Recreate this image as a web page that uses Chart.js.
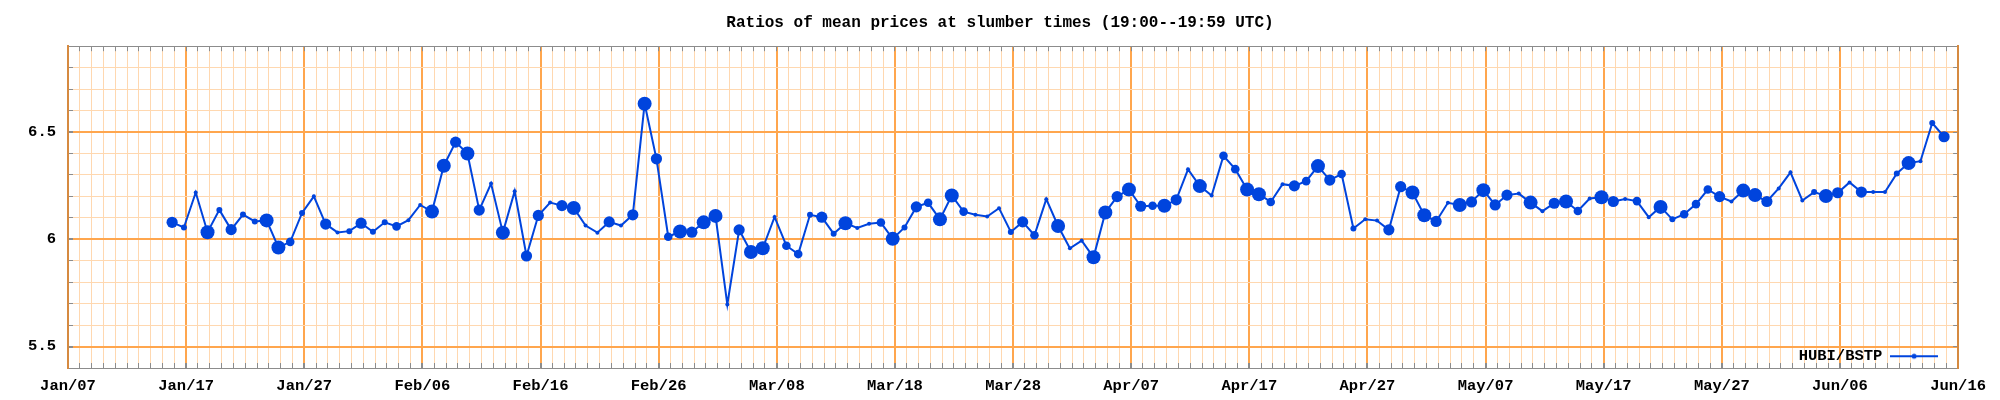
<!DOCTYPE html>
<html>
<head>
<meta charset="utf-8">
<script src="https://cdn.jsdelivr.net/npm/chart.js@4.4.1/dist/chart.umd.min.js"></script>
<style>
  html, body { margin: 0; padding: 0; background: #fff; }
</style>
</head>
<body>
<canvas id="ratioChart" width="2000" height="400"></canvas>
<script>
const chartTitle = 'Ratios of mean prices at slumber times (19:00--19:59 UTC)';
const seriesName = 'HUBI/BSTP';
const monthNames = ['Jan', 'Feb', 'Mar', 'Apr', 'May', 'Jun', 'Jul', 'Aug', 'Sep', 'Oct', 'Nov', 'Dec'];
const axisStart = [2023, 0, 7];   // Jan/07, left edge of the x axis
const axisDays = 160;             // up to Jun/16
const slotMiddle = 19.5 / 24;     // 19:00--19:59 UTC
const yMin = 5.4;
const yMax = 6.9;

// one sample per day
const dates = [
  '01-15', '01-16', '01-17', '01-18', '01-19', '01-20', '01-21', '01-22', '01-23', '01-24', '01-25', '01-26', '01-27', '01-28', '01-29', '01-30', '01-31',
  '02-01', '02-02', '02-03', '02-04', '02-05', '02-06', '02-07', '02-08', '02-09', '02-10', '02-11', '02-12', '02-13', '02-14', '02-15', '02-16', '02-17', '02-18', '02-19', '02-20', '02-21', '02-22', '02-23', '02-24', '02-25', '02-26', '02-27', '02-28',
  '03-01', '03-02', '03-03', '03-04', '03-05', '03-06', '03-07', '03-08', '03-09', '03-10', '03-11', '03-12', '03-13', '03-14', '03-15', '03-16', '03-17', '03-18', '03-19', '03-20', '03-21', '03-22', '03-23', '03-24', '03-25', '03-26', '03-27', '03-28', '03-29', '03-30', '03-31',
  '04-01', '04-02', '04-03', '04-04', '04-05', '04-06', '04-07', '04-08', '04-09', '04-10', '04-11', '04-12', '04-13', '04-14', '04-15', '04-16', '04-17', '04-18', '04-19', '04-20', '04-21', '04-22', '04-23', '04-24', '04-25', '04-26', '04-27', '04-28', '04-29', '04-30',
  '05-01', '05-02', '05-03', '05-04', '05-05', '05-06', '05-07', '05-08', '05-09', '05-10', '05-11', '05-12', '05-13', '05-14', '05-15', '05-16', '05-17', '05-18', '05-19', '05-20', '05-21', '05-22', '05-23', '05-24', '05-25', '05-26', '05-27', '05-28', '05-29', '05-30', '05-31',
  '06-01', '06-02', '06-03', '06-04', '06-05', '06-06', '06-07', '06-08', '06-09', '06-10', '06-11', '06-12', '06-13', '06-14'
];

const ratios = [
  6.079, 6.055, 6.218, 6.033, 6.137, 6.045, 6.115, 6.083, 6.088, 5.962, 5.988, 6.123, 6.200, 6.071, 6.032, 6.038, 6.075,
  6.035, 6.079, 6.060, 6.089, 6.160, 6.129, 6.343, 6.453, 6.400, 6.136, 6.260, 6.031, 6.224, 5.922, 6.111, 6.171, 6.157, 6.146, 6.064, 6.031, 6.081, 6.064, 6.114, 6.632, 6.375, 6.012, 6.036, 6.033,
  6.079, 6.109, 5.696, 6.044, 5.941, 5.958, 6.104, 5.970, 5.931, 6.114, 6.103, 6.026, 6.075, 6.053, 6.072, 6.078, 6.002, 6.055, 6.151, 6.170, 6.093, 6.204, 6.129, 6.114, 6.106, 6.145, 6.034, 6.081, 6.019, 6.187, 6.062,
  5.958, 5.994, 5.916, 6.125, 6.199, 6.232, 6.154, 6.156, 6.156, 6.184, 6.326, 6.248, 6.204, 6.389, 6.327, 6.232, 6.210, 6.174, 6.257, 6.249, 6.271, 6.341, 6.276, 6.304, 6.050, 6.093, 6.087, 6.044, 6.245, 6.218,
  6.112, 6.083, 6.170, 6.160, 6.174, 6.229, 6.160, 6.206, 6.213, 6.171, 6.131, 6.168, 6.176, 6.132, 6.190, 6.196, 6.176, 6.188, 6.178, 6.103, 6.151, 6.093, 6.117, 6.164, 6.232, 6.199, 6.176, 6.227, 6.206, 6.176, 6.237,
  6.312, 6.181, 6.220, 6.202, 6.217, 6.265, 6.220, 6.220, 6.220, 6.307, 6.355, 6.364, 6.542, 6.478
];

// relative amount behind each sample (1 = few .. 5 = many), shown as marker size
const volumes = [
  4, 2, 1, 5, 2, 4, 2, 2, 5, 5, 3, 2, 1, 4, 1, 2, 4,
  2, 2, 3, 1, 1, 5, 5, 4, 5, 4, 1, 5, 1, 4, 4, 1, 4, 5, 1, 1, 4, 1, 4, 5, 4, 3, 5, 4,
  5, 5, 1, 4, 5, 5, 1, 3, 3, 2, 4, 2, 5, 1, 1, 3, 5, 2, 4, 3, 5, 5, 3, 1, 1, 1, 2, 4, 3, 1, 5,
  1, 1, 5, 5, 4, 5, 4, 3, 5, 4, 1, 5, 1, 3, 3, 5, 5, 3, 1, 4, 3, 5, 4, 3, 2, 1, 1, 4, 4, 5,
  5, 4, 1, 5, 4, 5, 4, 4, 1, 5, 1, 4, 5, 3, 1, 5, 4, 1, 3, 1, 5, 2, 3, 3, 3, 4, 1, 5, 5, 4, 1,
  1, 1, 2, 5, 4, 1, 4, 1, 1, 2, 5, 1, 2, 4
];

const BLUE = 'rgb(0, 68, 221)';
const GRID_MAJOR = 'rgb(255, 166, 77)';
const GRID_MINOR = 'rgb(255, 216, 176)';
const TICK_MARK = '#8c8c8c';
const FRAME = 'rgb(214, 138, 64)';
const markerRadius = [0, 2, 3, 4.3, 5.6, 7];
const FONT = 'Liberation Mono';

const DAY_MS = 864e5;
const startMs = Date.UTC(axisStart[0], axisStart[1], axisStart[2]);

function dayOffset(mmdd) {
  const m = parseInt(mmdd.slice(0, 2), 10);
  const d = parseInt(mmdd.slice(3), 10);
  return (Date.UTC(axisStart[0], m - 1, d) - startMs) / DAY_MS;
}

function dateLabel(value) {
  if (Math.round(value) % 10 !== 0) return '';
  const dt = new Date(startMs + Math.round(value) * DAY_MS);
  return monthNames[dt.getUTCMonth()] + '/' + String(dt.getUTCDate()).padStart(2, '0');
}

function isMajorY(v) {
  return Math.round(v * 10) % 5 === 0;
}

const points = dates.map((d, i) => ({ x: dayOffset(d) + slotMiddle, y: ratios[i] }));

// small line-with-dot sample for the legend
const legendIcon = document.createElement('canvas');
legendIcon.width = 48;
legendIcon.height = 8;
(function () {
  const ic = legendIcon.getContext('2d');
  ic.strokeStyle = BLUE;
  ic.lineWidth = 2;
  ic.beginPath();
  ic.moveTo(0, 4);
  ic.lineTo(48, 4);
  ic.stroke();
  ic.fillStyle = BLUE;
  ic.beginPath();
  ic.arc(24, 4, 2.5, 0, Math.PI * 2);
  ic.fill();
})();

// put the chartArea legend in the bottom right corner
const legendCorner = {
  id: 'legendCorner',
  afterLayout(chart) {
    const lg = chart.legend;
    const ca = chart.chartArea;
    if (!lg) return;
    const w = lg.width;
    lg.right = ca.right - 10;
    lg.left = lg.right - w;
    lg.top = ca.top;
    lg.bottom = ca.bottom + 6;
    lg.height = lg.bottom - lg.top;
  }
};

const ctx = document.getElementById('ratioChart').getContext('2d');

const config = {
  type: 'line',
  data: {
    datasets: [{
      label: seriesName,
      data: points,
      borderColor: BLUE,
      backgroundColor: BLUE,
      borderWidth: 2,
      tension: 0,
      pointBackgroundColor: BLUE,
      pointBorderWidth: 0,
      pointRadius: c => markerRadius[volumes[c.dataIndex]],
      pointHoverRadius: c => markerRadius[volumes[c.dataIndex]]
    }]
  },
  options: {
    responsive: false,
    animation: false,
    devicePixelRatio: 1,
    layout: {
      padding: 0
    },
    plugins: {
      title: {
        display: true,
        text: chartTitle,
        color: '#000',
        font: { family: FONT, size: 16, weight: 'bold' },
        padding: { top: 13, bottom: 14 }
      },
      legend: {
        position: 'chartArea',
        align: 'end',
        rtl: true,
        labels: {
          color: '#000',
          font: { family: FONT, size: 15.5, weight: 'bold' },
          usePointStyle: true,
          pointStyle: legendIcon,
          pointStyleWidth: 48
        }
      },
      tooltip: { enabled: false }
    },
    scales: {
      x: {
        type: 'linear',
        position: 'bottom',
        min: 0,
        max: axisDays,
        afterFit: s => { s.height = 32; },
        border: { color: TICK_MARK, width: 1 },
        grid: {
          color: c => (Math.round(c.tick.value) % 10 === 0 ? GRID_MAJOR : GRID_MINOR),
          lineWidth: c => (Math.round(c.tick.value) % 10 === 0 ? 2 : 1),
          tickColor: TICK_MARK,
          tickLength: -5
        },
        ticks: {
          stepSize: 1,
          autoSkip: false,
          maxRotation: 0,
          minRotation: 0,
          padding: 14,
          color: '#000',
          font: { family: FONT, size: 15.5, weight: 'bold' },
          callback: v => dateLabel(v)
        }
      },
      x2: {
        type: 'linear',
        position: 'top',
        min: 0,
        max: axisDays,
        afterFit: s => { s.height = 0; },
        border: { color: TICK_MARK, width: 1 },
        grid: { drawOnChartArea: false, tickColor: TICK_MARK, tickLength: -5 },
        ticks: { stepSize: 1, display: false }
      },
      y: {
        type: 'linear',
        position: 'left',
        min: yMin,
        max: yMax,
        afterFit: s => { s.width = 68; },
        border: { color: FRAME, width: 2 },
        grid: {
          color: c => (isMajorY(c.tick.value) ? GRID_MAJOR : GRID_MINOR),
          lineWidth: c => (isMajorY(c.tick.value) ? 2 : 1),
          tickColor: TICK_MARK,
          tickLength: -5
        },
        ticks: {
          stepSize: 0.1,
          autoSkip: false,
          padding: 17,
          color: '#000',
          font: { family: FONT, size: 15.5, weight: 'bold' },
          callback: v => (isMajorY(v) ? String(Math.round(v * 10) / 10) : '')
        }
      },
      y2: {
        type: 'linear',
        position: 'right',
        min: yMin,
        max: yMax,
        afterFit: s => { s.width = 33; },
        border: { color: FRAME, width: 2 },
        grid: { drawOnChartArea: false, tickColor: TICK_MARK, tickLength: -5 },
        ticks: { stepSize: 0.1, display: false }
      }
    }
  },
  plugins: [legendCorner]
};

const ratioChart = new Chart(ctx, config);
</script>
</body>
</html>
